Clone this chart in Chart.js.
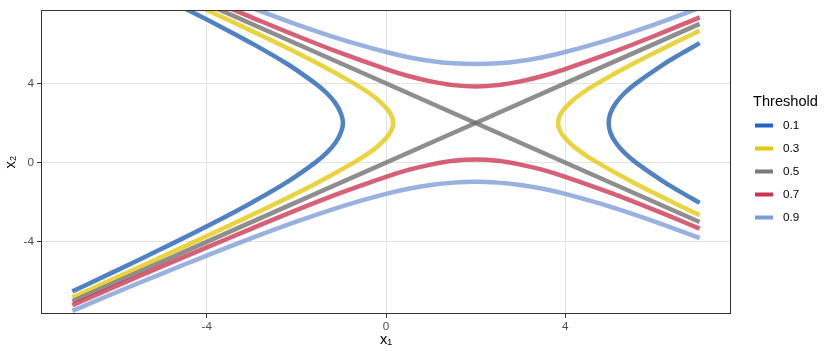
<!DOCTYPE html>
<html>
<head>
<meta charset="utf-8">
<script src="https://cdn.jsdelivr.net/npm/chart.js@4.4.1/dist/chart.umd.min.js"></script>
<style>
  html, body { margin: 0; padding: 0; background: #fff; }
  #wrap { width: 833px; height: 357px; position: relative; }
</style>
</head>
<body>
<div id="wrap"><canvas id="chart"></canvas></div>
<script>
const thresholds = ['0.1', '0.3', '0.5', '0.7', '0.9'];
const xTicks = [-4, 0, 4];
const yTicks = [-4, 0, 4];

// contour branches, as [x1, x2]
const t01Left = [[-4.69, 8], [-3.81, 7], [-2.98, 6], [-2.22, 5], [-1.58, 4], [-1.32, 3.5], [-1.13, 3], [-1.01, 2.5], [-0.96, 2],
  [-1.01, 1.5], [-1.13, 1], [-1.32, 0.5], [-1.58, 0], [-2.22, -1], [-2.98, -2], [-3.81, -3], [-4.69, -4], [-5.6, -5], [-6.53, -6], [-7, -6.5]];
const t01Right = [[7, 6.03], [6.59, 5.5], [6.22, 5], [5.58, 4], [5.32, 3.5], [5.13, 3], [5.01, 2.5], [4.97, 2], [5.01, 1.5],
  [5.13, 1], [5.32, 0.5], [5.58, 0], [6.22, -1], [6.59, -1.5], [7, -2.03]];
const t03Left = [[-4.28, 8], [-3.33, 7], [-2.4, 6], [-1.52, 5], [-0.72, 4], [-0.37, 3.5], [-0.1, 3], [0.09, 2.5], [0.16, 2],
  [0.09, 1.5], [-0.1, 1], [-0.37, 0.5], [-0.72, 0], [-1.52, -1], [-2.4, -2], [-3.33, -3], [-4.28, -4], [-5.24, -5], [-6.21, -6], [-7, -6.81]];
const t03Right = [[7, 6.65], [6.4, 6], [5.52, 5], [4.72, 4], [4.37, 3.5], [4.1, 3], [3.91, 2.5], [3.84, 2], [3.91, 1.5],
  [4.1, 1], [4.37, 0.5], [4.72, 0], [5.52, -1], [6.4, -2], [7, -2.65]];
const t05Up = [[-7, -7], [2, 2], [7, 7]];
const t05Down = [[-4, 8], [2, 2], [7, -3]];
const t07Upper = [[-3.71, 8], [-3, 7.33], [-2, 6.4], [-1, 5.52], [0, 4.72], [0.5, 4.37], [1, 4.1], [1.5, 3.91], [2, 3.84],
  [2.5, 3.91], [3, 4.1], [3.5, 4.37], [4, 4.72], [5, 5.52], [6, 6.4], [7, 7.33]];
const t07Lower = [[-7, -7.19], [-6, -6.21], [-5, -5.24], [-4, -4.28], [-3, -3.33], [-2, -2.4], [-1, -1.52], [0, -0.72], [0.5, -0.37],
  [1, -0.1], [1.5, 0.09], [2, 0.16], [2.5, 0.09], [3, -0.1], [3.5, -0.37], [4, -0.72], [5, -1.52], [6, -2.4], [7, -3.33]];
const t09Upper = [[-3.22, 8], [-2, 6.98], [-1, 6.22], [0, 5.58], [0.5, 5.32], [1, 5.13], [1.5, 5.01], [2, 4.97],
  [2.5, 5.01], [3, 5.13], [3.5, 5.32], [4, 5.58], [5, 6.22], [6, 6.98], [7, 7.81]];
const t09Lower = [[-7, -7.48], [-6, -6.53], [-5, -5.6], [-4, -4.69], [-3, -3.81], [-2, -2.98], [-1, -2.22], [0, -1.58], [0.5, -1.32],
  [1, -1.13], [1.5, -1.01], [2, -0.96], [2.5, -1.01], [3, -1.13], [3.5, -1.32], [4, -1.58], [5, -2.22], [6, -2.98], [7, -3.81]];

const branches = {
    '0.1': [t01Left, t01Right],
    '0.3': [t03Left, t03Right],
    '0.5': [t05Up, t05Down],
    '0.7': [t07Upper, t07Lower],
    '0.9': [t09Upper, t09Lower]
};

const keyColors = {
    '0.1': '#1f64c4',
    '0.3': '#e3c80a',
    '0.5': '#7a7a7a',
    '0.7': '#cc3350',
    '0.9': '#7c9bd8'
};
const lineColors = {
    '0.1': 'rgba(31, 94, 178, 0.78)',
    '0.3': 'rgba(227, 200, 10, 0.78)',
    '0.5': 'rgba(110, 110, 110, 0.78)',
    '0.7': 'rgba(204, 51, 80, 0.78)',
    '0.9': 'rgba(124, 155, 216, 0.78)'
};

const FONT = '"Liberation Sans", Arial, Helvetica, sans-serif';

// first dataset is drawn on top, so go from 0.9 down to 0.1
const datasets = [];
thresholds.slice().reverse().forEach(t => {
    branches[t].forEach(pts => {
        datasets.push({
            label: t,
            data: pts.map(p => ({ x: p[0], y: p[1] })),
            showLine: true,
            borderColor: lineColors[t],
            borderWidth: 4.5,
            pointRadius: 0,
            pointHoverRadius: 0,
            tension: 0.35,
            fill: false,
            clip: 0
        });
    });
});

const panelBorder = {
    id: 'panelBorder',
    afterDatasetsDraw(chart) {
        const { ctx, chartArea: a } = chart;
        ctx.save();
        ctx.strokeStyle = '#333333';
        ctx.lineWidth = 1;
        ctx.strokeRect(a.left + 0.5, a.top + 0.5, a.right - a.left - 1, a.bottom - a.top - 1);
        ctx.restore();
    }
};

const sideLegend = {
    id: 'sideLegend',
    afterDraw(chart) {
        const ctx = chart.ctx;
        ctx.save();
        ctx.textBaseline = 'middle';
        ctx.textAlign = 'left';
        ctx.fillStyle = '#000';
        ctx.font = '14.6px ' + FONT;
        ctx.fillText('Threshold', 753, 102);
        thresholds.forEach((t, i) => {
            const y = 125.5 + i * 23;
            ctx.fillStyle = keyColors[t];
            ctx.fillRect(755, y - 2, 18, 4);
            ctx.fillStyle = '#000';
            ctx.font = '11.7px ' + FONT;
            ctx.fillText(t, 783, y + 0.5);
        });
        ctx.restore();
    }
};

new Chart(document.getElementById('chart'), {
    type: 'scatter',
    data: { datasets },
    options: {
        responsive: true,
        maintainAspectRatio: false,
        animation: false,
        events: [],
        layout: { padding: { top: 7, right: 102, left: 0, bottom: 0 } },
        plugins: {
            legend: { display: false },
            tooltip: { enabled: false }
        },
        scales: {
            x: {
                type: 'linear',
                min: -7.7,
                max: 7.7,
                afterBuildTicks: s => { s.ticks = xTicks.map(v => ({ value: v })); },
                afterFit: s => { s.height = 43; },
                grid: { color: '#e3e3e3', lineWidth: 1, tickColor: '#333333', tickLength: 4 },
                border: { display: false },
                ticks: { color: '#4d4d4d', padding: 2, font: { family: FONT, size: 11.7 } },
                title: {
                    display: true,
                    text: 'x\u2081',
                    color: '#000',
                    font: { family: FONT, size: 14.6 },
                    padding: { top: 0, bottom: 8 }
                }
            },
            y: {
                type: 'linear',
                min: -7.64,
                max: 7.7,
                afterBuildTicks: s => { s.ticks = yTicks.map(v => ({ value: v })); },
                afterFit: s => { s.width = 41; },
                grid: { color: '#e3e3e3', lineWidth: 1, tickColor: '#333333', tickLength: 4 },
                border: { display: false },
                ticks: { color: '#4d4d4d', padding: 3, font: { family: FONT, size: 11.7 } },
                title: {
                    display: true,
                    text: 'x\u2082',
                    color: '#000',
                    font: { family: FONT, size: 14.6 },
                    padding: { top: 2, bottom: 0 }
                }
            }
        }
    },
    plugins: [panelBorder, sideLegend]
});
</script>
</body>
</html>
